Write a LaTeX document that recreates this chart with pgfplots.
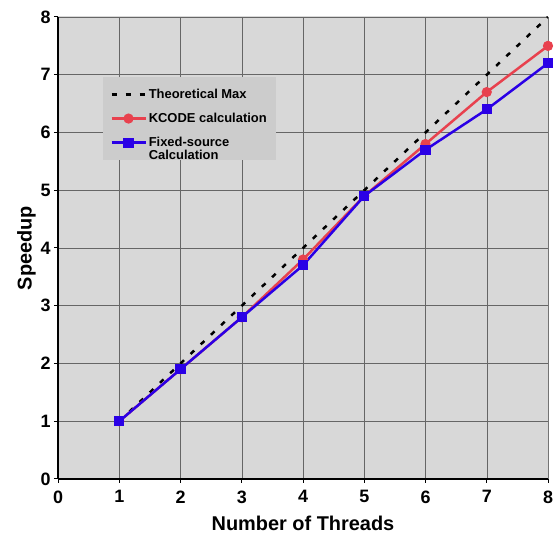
\documentclass[border=0pt]{standalone}
\usepackage{pgfplots}
\pgfplotsset{compat=1.18}
\usetikzlibrary{calc}
\usepackage{fontspec}
\setmainfont{Liberation Sans}
\definecolor{plotbg}{HTML}{D8D8D8}
\definecolor{legbg}{HTML}{CCCCCC}
\definecolor{kred}{HTML}{E8414E}
\definecolor{fblue}{HTML}{2A00E6}
\begin{document}
\begin{tikzpicture}[x=1bp,y=1bp]
\begin{axis}[
  name=main,
  scale only axis, width=490bp, height=462bp,
  xmin=0, xmax=8, ymin=0, ymax=8,
  xtick={0,...,8}, ytick={0,...,8},
  axis background/.style={fill=plotbg},
  grid=major, grid style={gray!80!black, line width=0.5pt},
  axis x line*=bottom, axis y line*=left,
  axis line style={line width=1.6pt},
  tick style={black, line width=1pt},
  tick align=outside, major tick length=4bp,
  ticklabel style={font=\fontsize{18}{18}\selectfont\bfseries},
  xticklabel style={yshift=-4bp},
  /pgf/number format/assume math mode=true,
  xlabel={Number of Threads}, ylabel={Speedup},
  label style={font=\fontsize{20}{20}\selectfont\bfseries},
  xlabel style={yshift=-6bp},
  ylabel style={yshift=-2bp},
  legend cell align=left,
  legend style={at={(0.092,0.870)}, anchor=north west, fill=legbg, draw=none,
    font=\fontsize{13}{14}\selectfont\bfseries, row sep=9bp, inner xsep=7bp, inner ysep=10bp},
  legend image code/.code={\draw[mark repeat=2,mark phase=2,#1] plot coordinates {(0bp,0bp) (17bp,0bp) (34bp,0bp)};},
]
\addplot[gray!30, line width=1pt, forget plot] coordinates {(0,8) (8,8) (8,0)};
\addplot[black, line width=2.5pt, dash pattern=on 5bp off 9bp] coordinates {(1,1) (8,8)};
\addlegendentry{Theoretical Max}
\addplot[kred, line width=2.5pt, mark=*, mark size=3.8bp] coordinates {(1,1) (2,1.9) (3,2.8) (4,3.8) (5,4.9) (6,5.8) (7,6.7) (8,7.5)};
\addlegendentry{KCODE calculation}
\addplot[fblue, line width=2.5pt, mark=square*, mark size=3.8bp] coordinates {(1,1) (2,1.9) (3,2.8) (4,3.7) (5,4.9) (6,5.7) (7,6.4) (8,7.2)};
\addlegendentry{\begin{tabular}[t]{@{}l@{}}Fixed-source\\[-1bp]Calculation\end{tabular}}
\end{axis}
\pgfresetboundingbox
\path[use as bounding box] ($(main.south west)+(-58bp,-63bp)$) rectangle ($(main.north east)+(8bp,17bp)$);
\end{tikzpicture}
\end{document}
